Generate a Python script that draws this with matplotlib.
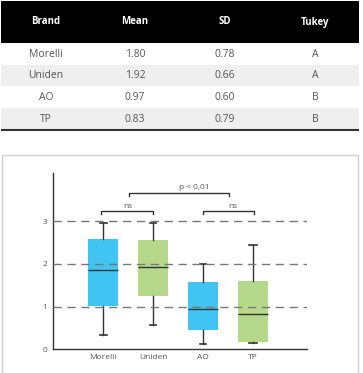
import matplotlib
matplotlib.use("Agg")
import matplotlib.pyplot as plt
from matplotlib.patches import Rectangle

plt.rcParams['font.family'] = ['Open Sans', 'DejaVu Sans']

# ---- Table data ----
headers = ["Brand", "Mean", "SD", "Tukey"]
brands = ["Morelli", "Uniden", "AO", "TP"]
means = ["1.80", "1.92", "0.97", "0.83"]
sds = ["0.78", "0.66", "0.60", "0.79"]
tukey = ["A", "A", "B", "B"]

# ---- Boxplot stats ----
whislo = [0.34, 0.57, 0.13, 0.14]
q1 = [1.01, 1.25, 0.45, 0.16]
med = [1.85, 1.92, 0.94, 0.83]
q3 = [2.58, 2.56, 1.57, 1.61]
whishi = [2.97, 2.97, 2.00, 2.45]
box_colors = ["#40C4F2", "#B5D88A", "#40C4F2", "#B5D88A"]

W, H = 363, 373
fig = plt.figure(figsize=(W / 100, H / 100), dpi=100)

# Background canvas in pixel coordinates
bg = fig.add_axes([0, 0, 1, 1])
bg.set_xlim(0, W)
bg.set_ylim(H, 0)
bg.axis('off')

# Table
col_x = [46, 135, 225, 315]
bg.add_patch(Rectangle((1, 1), 358, 42, color="black", lw=0))
for x, h in zip(col_x, headers):
    bg.text(x, 22, h, color="white", fontsize=7, fontweight="bold",
            ha="center", va="center")
row_h = 21.6
for i in range(len(brands)):
    y0 = 43 + i * row_h
    if i % 2 == 1:
        bg.add_patch(Rectangle((1, y0), 358, row_h, color="#EFEFEF", lw=0))
    vals = [brands[i], means[i], sds[i], tukey[i]]
    for x, v in zip(col_x, vals):
        bg.text(x, y0 + row_h / 2 + 0.5, v, color="#555555", fontsize=7.5,
                ha="center", va="center")
bg.plot([1, 359], [129.5, 129.5], color="#333333", lw=1.5, solid_capstyle="butt")

# Chart panel frame
bg.add_patch(Rectangle((1.5, 154.5), 356.5, 230, fill=False, ec="#D0D0D0", lw=1))

# Chart axes
ax_left, ax_right = 53, 307
ax_bottom, ax_top = 349.3, 173
ax = fig.add_axes([ax_left / W, (H - ax_bottom) / H,
                   (ax_right - ax_left) / W, (ax_bottom - ax_top) / H])
ax.patch.set_alpha(0)
ax.set_xlim(0, 5.08)
ax.set_ylim(0, 4.13)

stats = []
for i in range(len(brands)):
    stats.append(dict(label=brands[i], whislo=whislo[i], q1=q1[i], med=med[i],
                      q3=q3[i], whishi=whishi[i], fliers=[]))
bp = ax.bxp(stats, positions=[1, 2, 3, 4], widths=0.6, patch_artist=True,
            showfliers=False,
            boxprops=dict(lw=0),
            medianprops=dict(color="#333333", lw=1),
            whiskerprops=dict(color="#333333", lw=1),
            capprops=dict(color="#333333", lw=1.2),
            capwidths=0.14, zorder=3)
for patch, c in zip(bp['boxes'], box_colors):
    patch.set_facecolor(c)
    patch.set_edgecolor(c)

for yv in [1, 2, 3]:
    ax.axhline(yv, color="#777777", lw=1, dashes=(6, 4), zorder=4)

ax.set_yticks([0, 1, 2, 3])
ax.set_yticklabels(["0", "1", "2", "3"])
ax.tick_params(axis='both', length=0, labelsize=6, colors="#555555", pad=4)
ax.tick_params(axis='x', pad=3.5)
for s in ['top', 'right']:
    ax.spines[s].set_visible(False)
for s in ['left', 'bottom']:
    ax.spines[s].set_color("#333333")
    ax.spines[s].set_linewidth(1)

# Significance brackets
def bracket(x0, x1, y, label, tx, ty):
    ax.plot([x0, x0, x1, x1], [y - 0.07, y, y, y - 0.07], color="#333333",
            lw=1, clip_on=False)
    ax.text(tx, ty, label, fontsize=6, color="#555555", ha="center", va="center")

bracket(0.96, 2.0, 3.23, "ns", 1.5, 3.35)
bracket(1.52, 3.52, 3.65, "p < 0,01", 2.82, 3.78)
bracket(3.0, 4.02, 3.23, "ns", 3.6, 3.35)

fig.savefig("out.png", dpi=100)
